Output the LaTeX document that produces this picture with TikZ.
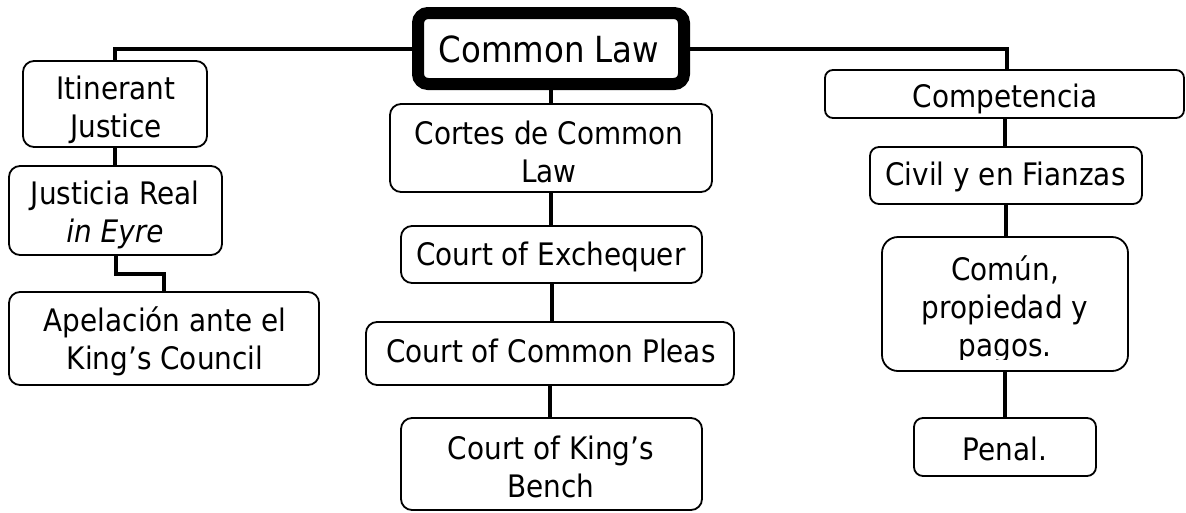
\documentclass[tikz,border=0pt]{standalone}
\usepackage{fontspec}
\setmainfont[FakeStretch=0.9]{DejaVu Sans}
\begin{document}
\begin{tikzpicture}[x=1pt,y=-1pt,
  box/.style={draw, line width=1.8pt, rounded corners=11pt, inner sep=0pt},
  rootbox/.style={draw, line width=12pt, rounded corners=10pt, inner sep=0pt},
  link/.style={line width=4pt},
  % multi-line labels are placed by the baseline of their last line
  txt/.style={anchor=base, align=center, inner sep=0pt, font=\fontsize{31}{38}\selectfont},
]
\useasboundingbox (0,0) rectangle (1186,512);

% root
\node[rootbox, minimum width=266pt, minimum height=71pt] (cl) at (551,48.5) {};
\node[txt, font=\fontsize{36}{38}\selectfont] (clT) at (549,62) {Common Law};

% left column
\node[box, minimum width=184pt, minimum height=86pt] (itin) at (115,104) {};
\node[txt] (itinT) at (116,137) {Itinerant\\Justice};
\node[box, minimum width=213pt, minimum height=89pt] (just) at (115.5,210.5) {};
\node[txt] (justT) at (115,242) {Justicia Real\\\itshape in Eyre};
\node[box, minimum width=310pt, minimum height=93pt] (apel) at (164,338.5) {};
\node[txt] (apelT) at (165,369) {Apelación ante el\\King’s Council};

% middle column
\node[box, minimum width=322pt, minimum height=88pt] (cortes) at (551,148) {};
\node[txt] (cortesT) at (549,182) {Cortes de Common\\Law};
\node[box, minimum width=301pt, minimum height=57pt] (exch) at (551.5,254.5) {};
\node[txt] (exchT) at (551,265) {Court of Exchequer};
\node[box, minimum width=368pt, minimum height=63pt] (pleas) at (550,353.5) {};
\node[txt] (pleasT) at (551,362) {Court of Common Pleas};
\node[box, minimum width=301pt, minimum height=92pt] (bench) at (551.5,464) {};
\node[txt] (benchT) at (551,497) {Court of King’s\\Bench};

% right column
\node[box, rounded corners=8pt, minimum width=359pt, minimum height=48pt] (comp) at (1004.5,94) {};
\node[txt] (compT) at (1005,107) {Competencia};
\node[box, rounded corners=9pt, minimum width=272pt, minimum height=57pt] (civil) at (1006,175.5) {};
\node[txt] (civilT) at (1005.5,185) {Civil y en Fianzas};
\node[box, rounded corners=16pt, minimum width=246pt, minimum height=134pt] (comun) at (1005,304) {};
\begin{scope}
  \clip (884,239) rectangle (1126,359);
  \node[txt] (comunT) at (1005,356) {Común,\\propiedad y\\pagos.};
\end{scope}
\node[box, rounded corners=9pt, minimum width=182pt, minimum height=58pt] (penal) at (1005,447) {};
\node[txt] (penalT) at (1005,460) {Penal.};

% connectors
\draw[link] (cl.west) -| (itin.north);
\draw[link] (cl.east) -| ([xshift=2pt]comp.north);
\draw[link] (cl.south) -- (cortes.north);
\draw[link] (itin.south) -- (itin.south |- just.north);
\draw[link] (just.south) -- ++(0,18) -| (apel.north);
\draw[link] (cortes.south) -- (cortes.south |- exch.north);
\draw[link] (exch.south) -- (exch.south |- pleas.north);
\draw[link] (pleas.south) -- (pleas.south |- bench.north);
\draw[link] (comp.south) -- (comp.south |- civil.north);
\draw[link] (civil.south) -- (civil.south |- comun.north);
\draw[link] (comun.south) -- (comun.south |- penal.north);
\end{tikzpicture}
\end{document}
